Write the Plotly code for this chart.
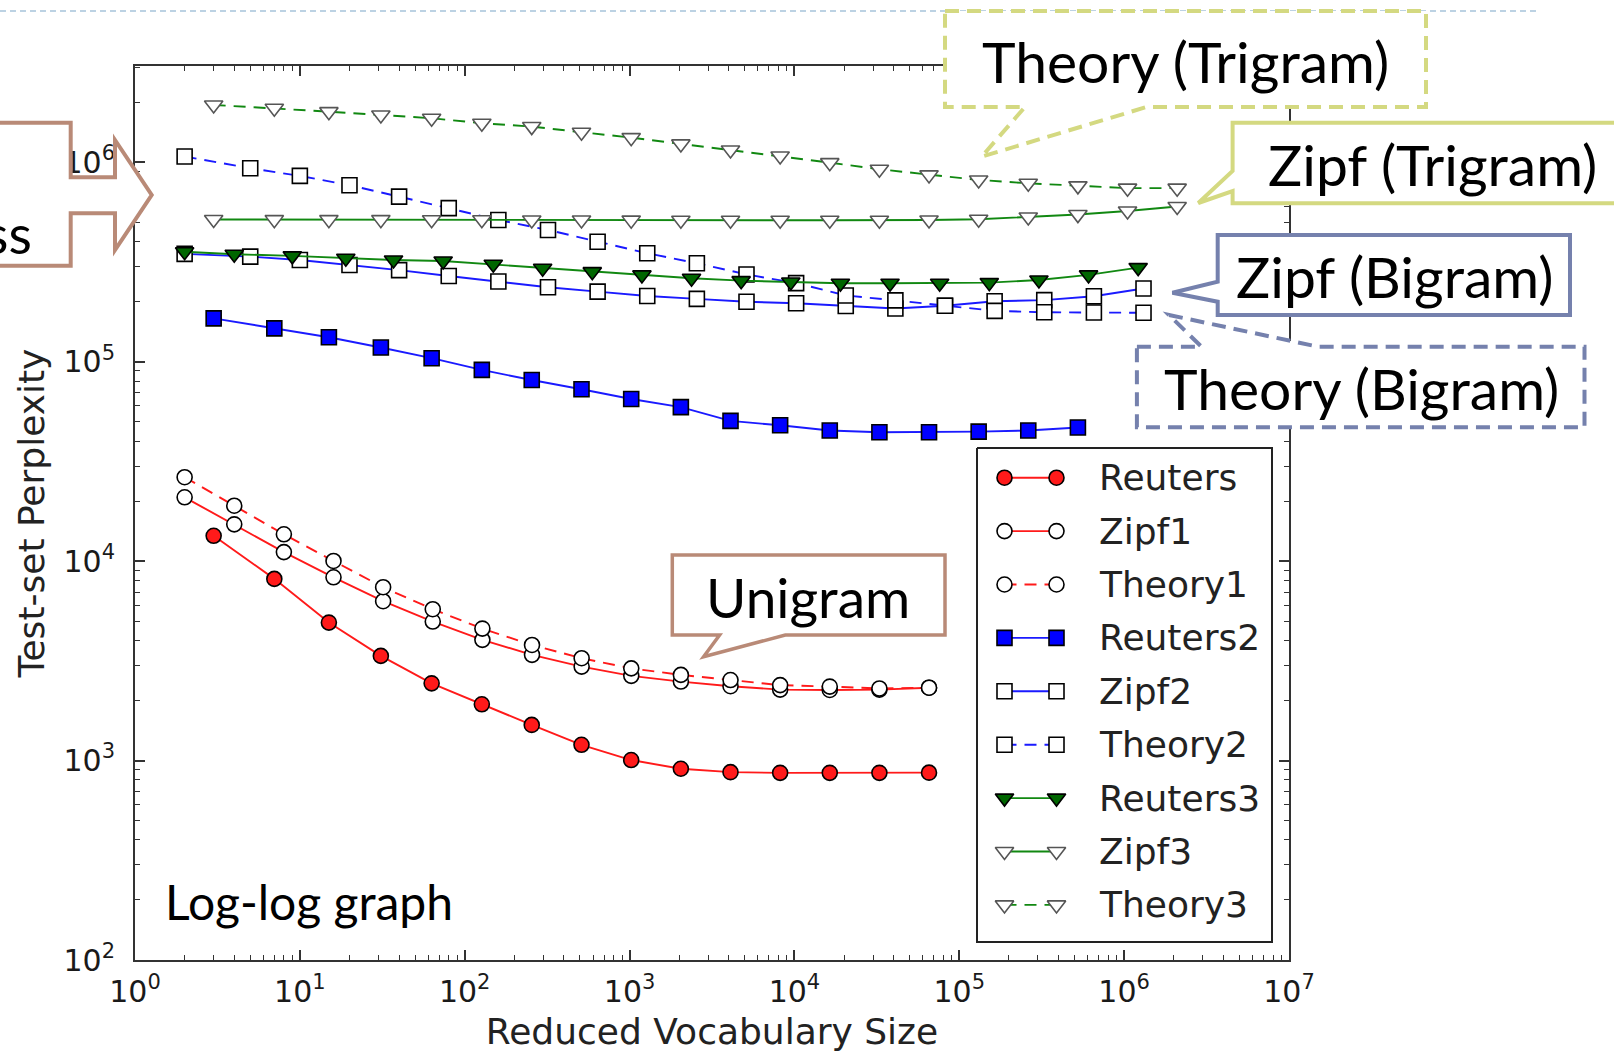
import plotly.graph_objects as go

# ---------------- data ----------------
reuters_x = [3, 7, 15, 31, 63, 127, 255, 511, 1023, 2047, 4095, 8191, 16383, 32767, 65535]
reuters_y = [13400, 8150, 4920, 3350, 2440, 1915, 1510, 1200, 1006, 910, 875, 868, 868, 868, 870]

zipf1_x = [2, 4, 8, 16, 32, 64, 128, 256, 512, 1024, 2048, 4096, 8192, 16384, 32768, 65536]
zipf1_y = [20900, 15300, 11100, 8300, 6300, 4980, 4030, 3390, 2960, 2660, 2490, 2360, 2270, 2260, 2270, 2320]

theory1_x = [2, 4, 8, 16, 32, 64, 128, 256, 512, 1024, 2048, 4096, 8192, 16384, 32768, 65536]
theory1_y = [26360, 18970, 13640, 10020, 7400, 5740, 4590, 3800, 3260, 2900, 2690, 2535, 2390, 2350, 2300, 2320]

reuters2_x = [3, 7, 15, 31, 63, 127, 255, 511, 1023, 2047, 4095, 8191, 16383, 32767, 65535,
              131071, 262143, 524287]
reuters2_y = [165000, 147000, 132700, 117800, 104200, 91000, 81000, 72800, 65000, 59200, 50500, 48000,
              45200, 44300, 44300, 44600, 45200, 46800]

zipf2_x = [2, 5, 10, 20, 40, 80, 160, 320, 640, 1280, 2560, 5120, 10240, 20480, 40960, 81920,
           163840, 327680, 655360, 1310720]
zipf2_y = [347500, 336600, 324000, 305700, 288000, 269000, 252400, 236500, 224600, 213800, 206600,
           199800, 196400, 190400, 185000, 191000, 201000, 203800, 213000, 233000]

theory2_x = [2, 5, 10, 20, 40, 80, 160, 320, 640, 1280, 2560, 5120, 10240, 20480, 40960, 81920,
             163840, 327680, 655360, 1310720]
theory2_y = [1069000, 934000, 855000, 768000, 673000, 589000, 514000, 458000, 400000, 350000, 312000,
             274000, 248000, 215000, 203000, 191000, 180000, 177000, 176500, 176000]

reuters3_x = [2, 4, 9, 19, 37, 74, 149, 297, 594, 1188, 2376, 4752, 9504, 19008, 38016, 76032,
              152064, 304128, 608256, 1216512]
reuters3_y = [356000, 346000, 339600, 330400, 323800, 320200, 308000, 294300, 283000, 272500, 262300,
              255000, 251300, 247500, 247500, 247500, 249300, 257000, 272500, 296500]

zipf3_x = [3, 7, 15, 31, 63, 127, 255, 511, 1023, 2047, 4095, 8191, 16383, 32767, 65535, 131071,
           262143, 524287, 1048575, 2097151]
zipf3_y = [517000, 516000, 516000, 516000, 515000, 515000, 514000, 514000, 513000, 512000, 512000,
           512000, 512000, 512000, 514000, 518000, 532000, 547000, 570000, 600000]

theory3_x = [3, 7, 15, 31, 63, 127, 255, 511, 1023, 2047, 4095, 8191, 16383, 32767, 65535, 131071,
             262143, 524287, 1048575, 2097151]
theory3_y = [1940000, 1866000, 1795000, 1728000, 1663000, 1571000, 1511000, 1416000, 1330000, 1237000,
             1153000, 1076000, 996000, 923000, 865000, 816000, 785000, 762000, 742000, 742000]

x_tick_vals = [1, 10, 100, 1000, 10000, 100000, 1000000, 10000000]
x_tick_text = ["10<sup>0</sup>", "10<sup>1</sup>", "10<sup>2</sup>", "10<sup>3</sup>",
               "10<sup>4</sup>", "10<sup>5</sup>", "10<sup>6</sup>", "10<sup>7</sup>"]
y_tick_vals = [100, 1000, 10000, 100000, 1000000]
y_tick_text = ["10<sup>2</sup>", "10<sup>3</sup>", "10<sup>4</sup>", "10<sup>5</sup>", "10<sup>6</sup>"]

legend_names = ["Reuters", "Zipf1", "Theory1", "Reuters2", "Zipf2", "Theory2", "Reuters3", "Zipf3", "Theory3"]

# ---------------- styles ----------------
RED, BLUE, GREEN = "#ff1a1a", "#1a1aff", "#118811"
DASH = "12px,8px"
series = [
    (reuters_x, reuters_y, RED, "solid", "circle", RED, "#000"),
    (zipf1_x, zipf1_y, RED, "solid", "circle", "white", "#000"),
    (theory1_x, theory1_y, RED, DASH, "circle", "white", "#000"),
    (reuters2_x, reuters2_y, BLUE, "solid", "square", "#0000ff", "#000"),
    (zipf2_x, zipf2_y, BLUE, "solid", "square", "white", "#000"),
    (theory2_x, theory2_y, BLUE, DASH, "square", "white", "#000"),
    (reuters3_x, reuters3_y, GREEN, "solid", "triangle-down", "#006600", "#000"),
    (zipf3_x, zipf3_y, GREEN, "solid", "triangle-down", "white", "#555"),
    (theory3_x, theory3_y, GREEN, DASH, "triangle-down", "white", "#555"),
]
sizes = {"circle": 15, "square": 15, "triangle-down": 16}

fig = go.Figure()
for (xs, ys, col, dash, sym, fc, ec), nm in zip(series, legend_names):
    fig.add_trace(go.Scatter(
        x=xs, y=ys, mode="lines+markers", name=nm, showlegend=False,
        line=dict(color=col, width=1.9, dash=dash),
        marker=dict(symbol=sym, size=sizes[sym], color=fc, line=dict(color=ec, width=1.6)),
        xaxis="x", yaxis="y"))

# ---------------- geometry (pixel helpers for decorations) ----------------
FW, FH = 1614, 1052
L, R, T, B = 135, 1289, 66, 960


def px(x):
    return (x - L) / (R - L)


def py(y):
    return (B - y) / (B - T)


def path(pts, close=True):
    s = "M " + " L ".join(f"{px(a):.5f},{py(b):.5f}" for a, b in pts)
    return s + (" Z" if close else "")


# ---------------- manual legend on pixel overlay axes ----------------
LEG_L, LEG_R, LEG_T, LEG_B = 977, 1272, 448, 942
fig.add_trace(go.Scatter(
    x=[LEG_L, LEG_R, LEG_R, LEG_L, LEG_L], y=[LEG_T, LEG_T, LEG_B, LEG_B, LEG_T],
    mode="lines", fill="toself", fillcolor="white", line=dict(color="#222", width=2),
    showlegend=False, hoverinfo="skip", xaxis="x2", yaxis="y2"))
row0, row_step = 477.7, 53.4
annotations = []
for i, ((xs, ys, col, dash, sym, fc, ec), nm) in enumerate(zip(series, legend_names)):
    yy = row0 + i * row_step
    fig.add_trace(go.Scatter(
        x=[1004.5, 1056.5], y=[yy, yy], mode="lines+markers", showlegend=False, hoverinfo="skip",
        line=dict(color=col, width=1.9, dash=dash),
        marker=dict(symbol=sym, size=sizes[sym], color=fc, line=dict(color=ec, width=1.6)),
        xaxis="x2", yaxis="y2"))
    annotations.append(dict(x=1097, y=yy, xref="x2", yref="y2", text=nm, showarrow=False,
                            xanchor="left", yanchor="middle",
                            font=dict(family="DejaVu Sans", size=36, color="#222")))

# ---------------- slide callouts ----------------
YG = "#d4d981"
BG = "#7581ad"
BR = "#b98a77"
shapes = []
shapes.append(dict(type="line", xref="paper", yref="paper", x0=px(0), x1=px(1538), y0=py(11), y1=py(11),
                   line=dict(color="#a7c3da", width=1.5, dash="6px,4px"), layer="above"))
# left arrow callout
shapes.append(dict(type="path", xref="paper", yref="paper", layer="above",
                   path=path([(-20, 122.7), (70.7, 122.7), (70.7, 177.3), (115, 177.3), (115, 140),
                              (151.7, 195), (115, 250), (115, 213.3), (70.7, 213.3), (70.7, 265.7),
                              (-20, 265.7)]),
                   fillcolor="white", line=dict(color=BR, width=4)))
# Theory (Trigram)
shapes.append(dict(type="path", xref="paper", yref="paper", layer="above",
                   path=path([(945, 11), (1426, 11), (1426, 107), (1146.6, 107), (981.6, 156.7),
                              (1025, 107), (945, 107)]),
                   fillcolor="white", line=dict(color=YG, width=4, dash="14px,8px")))
# Zipf (Trigram)
shapes.append(dict(type="path", xref="paper", yref="paper", layer="above",
                   path=path([(1232.6, 122.7), (1640, 122.7), (1640, 203.3), (1232.6, 203.3),
                              (1232.6, 191), (1198.3, 203), (1232.6, 171)]),
                   fillcolor="white", line=dict(color=YG, width=4)))
# Zipf (Bigram)
shapes.append(dict(type="path", xref="paper", yref="paper", layer="above",
                   path=path([(1217.7, 235), (1570, 235), (1570, 315), (1217.7, 315),
                              (1217.7, 301.7), (1172.4, 292.7), (1217.7, 281.7)]),
                   fillcolor="white", line=dict(color=BG, width=4)))
# Theory (Bigram)
shapes.append(dict(type="path", xref="paper", yref="paper", layer="above",
                   path=path([(1136.9, 346.7), (1201.5, 346.7), (1169, 315), (1318, 346.7),
                              (1584.5, 346.7), (1584.5, 427.3), (1136.9, 427.3)]),
                   fillcolor="white", line=dict(color=BG, width=4, dash="14px,8px")))
# Unigram
shapes.append(dict(type="path", xref="paper", yref="paper", layer="above",
                   path=path([(672.3, 555), (945, 555), (945, 635), (785.3, 635), (703.6, 656.7),
                              (719.6, 635), (672.3, 635)]),
                   fillcolor="white", line=dict(color=BR, width=3.5)))

CF = "Lato"
CS = 57


def note(text, x, y, xanchor="left", size=CS):
    return dict(x=px(x), y=py(y), xref="paper", yref="paper", text=text, showarrow=False,
                xanchor=xanchor, yanchor="middle", font=dict(family=CF, size=size, color="black"))


annotations += [
    note("Theory (Trigram)", 1185, 61, "center"),
    note("Zipf (Trigram)", 1266, 164),
    note("Zipf (Bigram)", 1234, 276),
    note("Theory (Bigram)", 1162, 388),
    note("Unigram", 808, 597, "center", 55),
    note("Log-log graph", 163, 901, size=48),
    note("ss", 34, 234, "right", 54),
]

minor_x = [k * 10 ** e for e in range(0, 7) for k in range(2, 10)]
minor_y = [k * 10 ** e for e in range(2, 7) for k in range(2, 10)]
AX = "#333"
TF = dict(family="DejaVu Sans", size=30, color="#1a1a1a")

fig.update_layout(
    width=FW, height=FH,
    margin=dict(l=L, r=FW - R, t=T, b=FH - B, pad=0, autoexpand=False),
    paper_bgcolor="white", plot_bgcolor="white",
    showlegend=False,
    xaxis=dict(type="log", range=[0, 7], tickmode="array", tickvals=x_tick_vals, ticktext=x_tick_text,
               automargin=False,
               ticks="inside", ticklen=10, tickwidth=1.5, tickcolor=AX,
               showline=True, linecolor=AX, linewidth=2, mirror="allticks", showgrid=False, zeroline=False,
               tickfont=TF, ticklabelstandoff=4,
               minor=dict(tickmode="array", tickvals=minor_x, ticks="inside", ticklen=5, tickwidth=1.2,
                          tickcolor=AX, showgrid=False),
               title=dict(text="Reduced Vocabulary Size", standoff=14,
                          font=dict(family="DejaVu Sans", size=36, color="#222"))),
    yaxis=dict(type="log", range=[2, 6.483], tickmode="array", tickvals=y_tick_vals, ticktext=y_tick_text,
               automargin=False,
               ticks="inside", ticklen=10, tickwidth=1.5, tickcolor=AX,
               showline=True, linecolor=AX, linewidth=2, mirror="allticks", showgrid=False, zeroline=False,
               tickfont=TF, ticklabelstandoff=12,
               minor=dict(tickmode="array", tickvals=minor_y, ticks="inside", ticklen=5, tickwidth=1.2,
                          tickcolor=AX, showgrid=False),
               title=dict(text="Test-set Perplexity", standoff=8,
                          font=dict(family="DejaVu Sans", size=36, color="#222"))),
    xaxis2=dict(overlaying="x", anchor="y2", range=[L, R], visible=False, fixedrange=True),
    yaxis2=dict(overlaying="y", anchor="x2", range=[B, T], visible=False, fixedrange=True),
    shapes=shapes,
    annotations=annotations,
)

fig.write_html("out.html")
